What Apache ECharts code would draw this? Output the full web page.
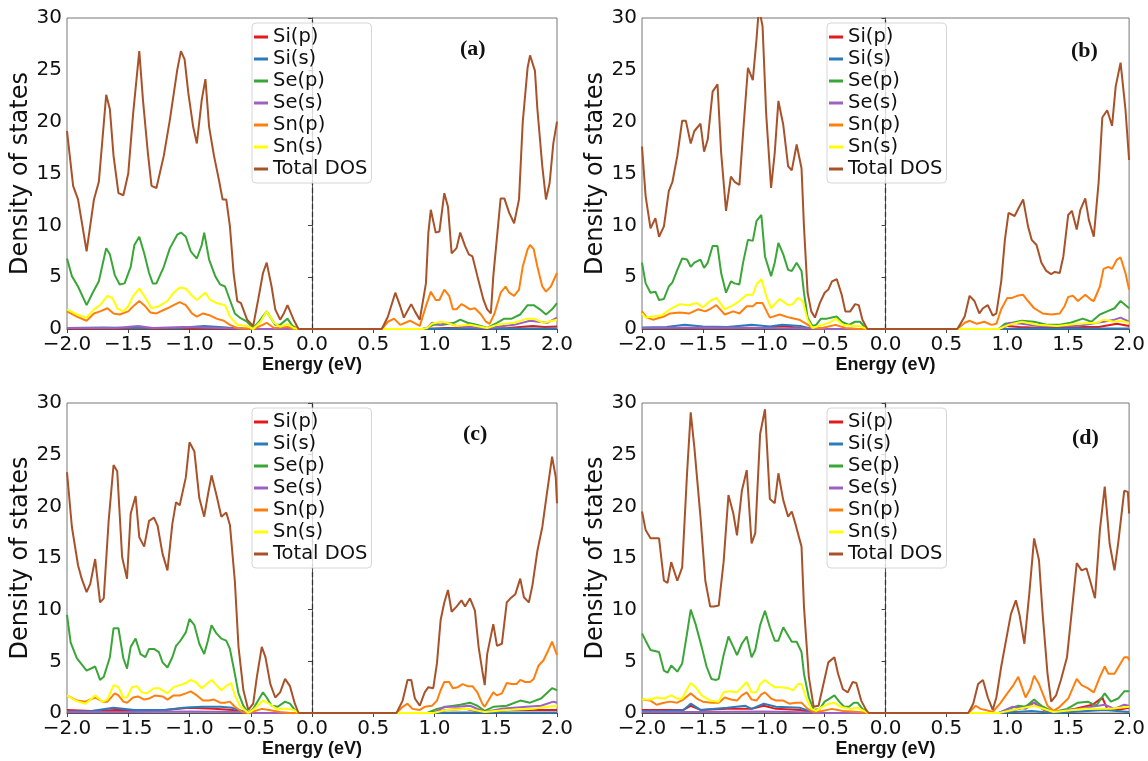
<!DOCTYPE html>
<html lang="en">
<head>
<meta charset="UTF-8">
<title>Density of states</title>
<script src="https://cdn.jsdelivr.net/npm/echarts@6/dist/echarts.min.js"></script>
<style>
  html, body { margin: 0; padding: 0; background: #fff; }
  #main { width: 1148px; height: 761px; }
</style>
</head>
<body>
<div id="main"></div>
<script>
// series names / colours (matplotlib order)
var names = ['Si(p)', 'Si(s)', 'Se(p)', 'Se(s)', 'Sn(p)', 'Sn(s)', 'Total DOS'];
var colors = ['#e31a1c', '#2b7bba', '#3aa637', '#9c62c2', '#ff7f0e', '#ffff00', '#a8522a'];
var tags = ['(a)', '(b)', '(c)', '(d)'];

// ---------- panel (a) ----------
var siPA = [[-2,0.05],[-1.6,0.05],[-1.2,0.05],[-0.9,0.1],[-0.6,0.03],[-0.5,0],[0.9,0],[1.1,0.1],[1.4,0.05],[1.6,0.1],[1.8,0.3],[1.9,0.2],[2,0.25]];
var siSA = [[-2,0.1],[-1.7,0.15],[-1.45,0.1],[-1.1,0.1],[-0.88,0.3],[-0.7,0.15],[-0.55,0],[0.9,0],[1.3,0.05],[2,0.05]];
var sePA = [[-2.0,6.8],[-1.96,5.1],[-1.91,4.1],[-1.84,2.3],[-1.79,3.5],[-1.74,4.6],[-1.68,7.8],[-1.65,7.2],[-1.61,5.2],[-1.57,4.3],[-1.53,4.4],[-1.48,6.0],[-1.45,8.1],[-1.41,8.9],[-1.37,7.3],[-1.33,5.4],[-1.30,4.4],[-1.27,4.4],[-1.21,6.0],[-1.16,7.8],[-1.10,9.1],[-1.07,9.3],[-1.03,8.9],[-0.99,7.5],[-0.97,7.2],[-0.94,6.8],[-0.90,8.1],[-0.88,9.3],[-0.84,6.7],[-0.79,5.1],[-0.75,4.3],[-0.71,4.1],[-0.67,2.8],[-0.63,1.5],[-0.59,1.1],[-0.53,0.7],[-0.48,0.1],[-0.44,0.6],[-0.37,1.7],[-0.30,0.4],[-0.26,0.4],[-0.20,1.0],[-0.16,0.3],[-0.11,0],[0.9,0],[0.94,0.1],[0.99,0.4],[1.07,0.4],[1.16,0.6],[1.21,0.9],[1.27,0.6],[1.35,0.4],[1.43,0.1],[1.51,0.6],[1.57,1.0],[1.63,1.0],[1.70,1.4],[1.76,2.3],[1.81,2.3],[1.86,1.9],[1.91,1.4],[1.96,1.9],[2.0,2.5]];
var seSA = [[-2,0.1],[-1.6,0.1],[-1.42,0.3],[-1.3,0.1],[-1.05,0.2],[-0.9,0.15],[-0.6,0.05],[-0.5,0],[0.9,0],[0.94,0.1],[0.98,0.6],[1.05,0.4],[1.1,0.6],[1.18,0.3],[1.43,0.1],[1.65,0.4],[1.78,0.8],[1.92,0.6],[2,1.1]];
var snPA = [[-2.0,1.7],[-1.92,1.2],[-1.84,0.8],[-1.78,1.5],[-1.73,1.7],[-1.67,2.0],[-1.62,1.5],[-1.57,1.4],[-1.50,1.7],[-1.45,2.3],[-1.41,2.7],[-1.37,2.3],[-1.32,1.6],[-1.27,1.5],[-1.18,2.0],[-1.13,2.3],[-1.08,2.6],[-1.03,2.3],[-0.98,1.5],[-0.94,1.2],[-0.89,1.5],[-0.83,1.3],[-0.78,1.0],[-0.72,0.8],[-0.67,0.4],[-0.61,0.1],[-0.48,0],[-0.42,0.3],[-0.37,0.6],[-0.31,0.1],[-0.20,0.2],[-0.15,0],[0.57,0],[0.62,0.7],[0.67,1.0],[0.72,0.4],[0.80,0.8],[0.88,0.3],[0.93,2.2],[0.97,3.6],[1.01,2.8],[1.04,2.8],[1.08,3.8],[1.12,3.2],[1.15,1.9],[1.18,1.9],[1.22,2.4],[1.25,2.2],[1.29,1.9],[1.33,2.0],[1.38,1.4],[1.42,0.7],[1.45,0.5],[1.49,1.5],[1.54,3.5],[1.58,4.1],[1.61,3.5],[1.65,3.2],[1.69,3.8],[1.72,6.0],[1.76,7.7],[1.78,8.1],[1.81,7.7],[1.84,6.0],[1.88,4.1],[1.91,3.6],[1.95,4.1],[2.0,5.4]];
var snSA = [[-2.0,1.9],[-1.92,1.4],[-1.84,1.1],[-1.78,1.9],[-1.73,2.3],[-1.67,3.2],[-1.63,3.0],[-1.59,2.0],[-1.54,1.7],[-1.50,2.2],[-1.46,3.2],[-1.41,3.9],[-1.37,3.2],[-1.31,2.0],[-1.25,2.2],[-1.18,2.7],[-1.13,3.5],[-1.08,4.0],[-1.03,3.9],[-0.98,3.2],[-0.94,2.8],[-0.90,3.2],[-0.87,3.5],[-0.83,2.8],[-0.78,2.5],[-0.71,2.3],[-0.67,1.2],[-0.61,0.4],[-0.53,0.3],[-0.48,0],[-0.42,0.7],[-0.37,1.7],[-0.31,0.6],[-0.26,0.2],[-0.20,0.5],[-0.15,0.1],[-0.11,0],[0.9,0],[0.94,0.1],[0.98,0.5],[1.05,0.7],[1.10,0.6],[1.18,0.3],[1.29,0.4],[1.43,0.1],[1.51,0.4],[1.65,0.6],[1.76,1.0],[1.81,1.0],[1.89,0.6],[2.0,0.9]];
var totA = [[-2.0,19.1],[-1.95,13.8],[-1.91,12.5],[-1.84,7.5],[-1.78,12.5],[-1.74,14.2],[-1.68,22.6],[-1.65,21.2],[-1.62,16.7],[-1.58,13.1],[-1.54,12.9],[-1.50,15.0],[-1.46,20.8],[-1.41,26.8],[-1.38,22.1],[-1.34,17.0],[-1.31,13.8],[-1.27,13.6],[-1.21,16.7],[-1.16,20.2],[-1.10,25.0],[-1.07,26.8],[-1.04,26.0],[-1.01,22.8],[-0.97,19.5],[-0.94,17.9],[-0.90,22.1],[-0.87,24.1],[-0.84,19.5],[-0.80,16.7],[-0.76,14.4],[-0.73,12.5],[-0.70,12.5],[-0.67,9.9],[-0.64,5.4],[-0.61,2.7],[-0.58,2.5],[-0.53,0.9],[-0.48,0.3],[-0.44,2.8],[-0.40,5.4],[-0.37,6.4],[-0.33,4.1],[-0.30,1.9],[-0.26,0.9],[-0.23,1.5],[-0.20,2.3],[-0.15,0.9],[-0.11,0],[0.57,0],[0.62,1.2],[0.68,3.5],[0.72,2.2],[0.75,1.1],[0.81,2.4],[0.84,1.7],[0.88,0.9],[0.93,4.4],[0.95,9.3],[0.97,11.5],[1.01,9.3],[1.04,9.4],[1.08,13.1],[1.11,11.8],[1.14,7.3],[1.18,7.8],[1.21,9.3],[1.25,8.0],[1.28,7.2],[1.31,7.0],[1.35,5.1],[1.40,2.8],[1.43,1.9],[1.46,1.5],[1.48,5.1],[1.54,12.6],[1.57,12.6],[1.61,11.2],[1.65,10.2],[1.69,12.5],[1.72,19.9],[1.76,25.2],[1.78,26.4],[1.82,24.9],[1.84,21.2],[1.88,15.7],[1.91,12.5],[1.94,14.1],[1.97,17.9],[2.0,20.0]];

// ---------- panel (b) ----------
var siPB = [[-2,0.1],[-1.6,0.1],[-1.3,0.15],[-1.0,0.1],[-0.85,0.3],[-0.7,0.1],[-0.6,0],[0.93,0],[1.0,0.3],[1.1,0.2],[1.3,0.1],[1.6,0.2],[1.75,0.2],[1.9,0.5],[2,0.3]];
var siSB = [[-2,0.15],[-1.8,0.2],[-1.65,0.4],[-1.5,0.25],[-1.3,0.2],[-1.1,0.4],[-0.95,0.25],[-0.85,0.4],[-0.7,0.3],[-0.6,0],[0.93,0],[1.2,0.05],[2,0.05]];
var sePB = [[-2.0,6.4],[-1.97,4.4],[-1.93,3.5],[-1.89,3.6],[-1.86,2.8],[-1.82,2.9],[-1.78,4.1],[-1.75,4.5],[-1.71,5.7],[-1.67,6.8],[-1.63,6.7],[-1.60,6.0],[-1.57,6.4],[-1.52,6.7],[-1.49,5.9],[-1.46,6.4],[-1.42,8.0],[-1.38,8.0],[-1.35,5.4],[-1.31,3.5],[-1.27,4.6],[-1.24,4.4],[-1.20,4.3],[-1.17,6.4],[-1.13,8.6],[-1.09,8.5],[-1.06,10.4],[-1.02,11.0],[-0.99,7.0],[-0.94,5.1],[-0.91,6.4],[-0.88,8.3],[-0.84,7.2],[-0.80,5.7],[-0.77,5.6],[-0.73,6.4],[-0.69,5.6],[-0.67,3.5],[-0.64,1.1],[-0.60,0.3],[-0.57,0.4],[-0.53,1.0],[-0.48,1.0],[-0.44,1.1],[-0.40,1.2],[-0.36,0.7],[-0.30,0.4],[-0.25,0.7],[-0.21,0.7],[-0.18,0.3],[-0.15,0],[0.93,0],[0.98,0.5],[1.04,0.6],[1.12,0.8],[1.22,0.7],[1.33,0.4],[1.43,0.4],[1.52,0.6],[1.62,1.0],[1.69,0.7],[1.76,1.4],[1.82,1.7],[1.88,2.0],[1.93,2.7],[2.0,2.0]];
var seSB = [[-2,0.1],[-1.5,0.15],[-1.0,0.1],[-0.6,0.05],[-0.55,0],[0.93,0],[1.02,0.6],[1.12,0.5],[1.25,0.3],[1.58,0.3],[1.79,0.7],[1.88,0.9],[1.93,1.1],[2,0.7]];
var snPB = [[-2.0,1.7],[-1.96,1.1],[-1.91,0.9],[-1.82,1.2],[-1.77,1.5],[-1.69,1.6],[-1.61,1.5],[-1.54,1.9],[-1.48,1.7],[-1.43,2.0],[-1.39,2.3],[-1.32,1.4],[-1.25,1.7],[-1.20,1.5],[-1.14,2.2],[-1.09,2.2],[-1.06,2.5],[-1.01,2.5],[-0.95,1.1],[-0.87,1.4],[-0.79,1.1],[-0.71,0.9],[-0.65,0.5],[-0.60,0.1],[-0.52,0.1],[-0.41,0.4],[-0.33,0.1],[-0.22,0],[0.59,0],[0.65,0.6],[0.69,0.8],[0.75,0.5],[0.81,0.7],[0.87,0.4],[0.91,0.5],[0.95,1.9],[1.00,3.0],[1.04,3.0],[1.08,3.2],[1.13,3.3],[1.17,2.7],[1.22,2.0],[1.29,1.5],[1.36,1.4],[1.43,1.5],[1.47,2.2],[1.50,3.1],[1.54,3.2],[1.58,2.7],[1.64,3.3],[1.69,2.8],[1.71,2.7],[1.76,4.1],[1.79,5.8],[1.83,6.0],[1.86,5.8],[1.90,6.7],[1.93,6.9],[1.97,5.4],[2.0,3.8]];
var snSB = [[-2.0,1.5],[-1.97,1.1],[-1.91,1.2],[-1.84,1.3],[-1.77,1.9],[-1.69,2.4],[-1.62,2.3],[-1.55,2.5],[-1.50,2.1],[-1.44,2.7],[-1.39,3.0],[-1.32,1.9],[-1.25,2.3],[-1.20,2.7],[-1.14,3.3],[-1.09,3.3],[-1.06,4.3],[-1.02,4.8],[-0.98,3.2],[-0.94,2.0],[-0.87,2.9],[-0.80,2.3],[-0.76,2.4],[-0.72,3.0],[-0.68,2.7],[-0.64,0.9],[-0.60,0.1],[-0.52,0.4],[-0.46,0.6],[-0.41,1.0],[-0.35,0.4],[-0.27,0.3],[-0.22,0.3],[-0.15,0],[0.93,0],[1.01,0.4],[1.12,0.7],[1.25,0.4],[1.41,0.3],[1.58,0.5],[1.74,0.6],[1.79,0.9],[1.88,0.7],[1.93,0.8],[2.0,0.6]];
var totB = [[-2.0,17.6],[-1.97,12.8],[-1.93,9.7],[-1.89,10.7],[-1.86,8.9],[-1.82,9.9],[-1.78,13.3],[-1.75,14.2],[-1.71,16.7],[-1.67,20.1],[-1.64,20.1],[-1.60,17.9],[-1.57,19.1],[-1.52,19.8],[-1.49,17.1],[-1.46,18.3],[-1.42,22.9],[-1.38,23.6],[-1.35,17.0],[-1.31,11.4],[-1.27,14.7],[-1.24,14.2],[-1.20,13.9],[-1.17,18.9],[-1.13,25.2],[-1.09,24.0],[-1.06,27.9],[-1.04,31.0],[-1.01,29.2],[-0.98,20.7],[-0.94,13.6],[-0.91,17.0],[-0.88,22.0],[-0.84,19.7],[-0.80,15.7],[-0.77,15.3],[-0.73,17.8],[-0.69,15.5],[-0.67,9.9],[-0.64,3.5],[-0.61,1.7],[-0.58,1.1],[-0.54,2.5],[-0.50,3.5],[-0.47,3.8],[-0.44,4.6],[-0.40,4.8],[-0.36,3.3],[-0.33,1.7],[-0.29,1.7],[-0.25,2.4],[-0.22,2.3],[-0.19,0.9],[-0.15,0],[0.59,0],[0.65,1.2],[0.69,3.2],[0.73,2.7],[0.77,1.5],[0.80,2.0],[0.84,2.3],[0.88,1.3],[0.91,1.5],[0.95,4.6],[0.98,8.6],[1.01,11.2],[1.06,10.9],[1.09,11.6],[1.13,12.5],[1.17,9.9],[1.20,8.6],[1.24,8.1],[1.28,6.4],[1.32,5.6],[1.36,5.3],[1.39,5.5],[1.43,5.4],[1.46,7.0],[1.50,11.0],[1.53,11.4],[1.57,9.6],[1.60,11.5],[1.64,12.6],[1.67,10.5],[1.71,8.9],[1.75,14.2],[1.78,20.4],[1.82,21.1],[1.86,19.6],[1.89,23.4],[1.93,25.7],[1.97,21.2],[2.0,16.3]];

// ---------- panel (c) ----------
var siPC = [[-2,0.3],[-1.8,0.2],[-1.6,0.3],[-1.4,0.3],[-1.2,0.3],[-1.0,0.5],[-0.8,0.4],[-0.65,0.3],[-0.52,0],[0.95,0],[1.1,0.3],[1.25,0.4],[1.41,0.05],[1.6,0.3],[2,0.3]];
var siSC = [[-2,0.15],[-1.8,0.2],[-1.62,0.5],[-1.45,0.3],[-1.2,0.3],[-1.05,0.5],[-0.9,0.6],[-0.75,0.6],[-0.65,0.5],[-0.52,0],[0.95,0],[1.2,0.05],[2,0.05]];
var sePC = [[-2.0,9.5],[-1.97,6.8],[-1.92,5.3],[-1.84,4.1],[-1.77,4.5],[-1.73,3.2],[-1.70,3.5],[-1.65,5.4],[-1.62,8.2],[-1.58,8.2],[-1.54,5.3],[-1.51,4.3],[-1.48,6.4],[-1.44,7.2],[-1.40,5.7],[-1.36,5.4],[-1.33,6.2],[-1.29,6.2],[-1.25,5.9],[-1.22,4.9],[-1.18,4.4],[-1.14,5.4],[-1.11,6.5],[-1.08,6.9],[-1.03,7.8],[-1.00,9.1],[-0.96,8.5],[-0.92,6.7],[-0.88,5.7],[-0.85,7.0],[-0.82,8.5],[-0.78,7.7],[-0.74,7.2],[-0.70,7.0],[-0.67,6.2],[-0.63,3.8],[-0.60,1.9],[-0.56,0.7],[-0.52,0],[-0.48,0.4],[-0.44,1.2],[-0.40,2.0],[-0.37,1.5],[-0.33,0.7],[-0.28,0.6],[-0.22,1.1],[-0.18,0.9],[-0.14,0.3],[-0.11,0],[0.94,0],[1.02,0.4],[1.10,0.6],[1.21,0.8],[1.29,1.0],[1.35,0.7],[1.41,0.2],[1.48,0.6],[1.59,0.7],[1.70,1.2],[1.78,1.0],[1.87,1.4],[1.96,2.4],[2.0,2.2]];
var seSC = [[-2,0.1],[-1.5,0.1],[-1.0,0.15],[-0.6,0.1],[-0.52,0],[0.99,0],[1.08,0.6],[1.18,0.6],[1.29,0.7],[1.41,0.1],[1.54,0.4],[1.75,0.6],[1.87,0.7],[1.97,1.1],[2,1.0]];
var snPC = [[-2.0,1.7],[-1.92,1.2],[-1.85,1.1],[-1.77,1.5],[-1.71,1.1],[-1.67,1.1],[-1.61,1.9],[-1.58,1.7],[-1.54,1.1],[-1.51,1.0],[-1.46,1.5],[-1.42,1.6],[-1.37,1.3],[-1.33,1.4],[-1.28,1.7],[-1.22,1.6],[-1.18,1.3],[-1.13,1.7],[-1.08,1.7],[-1.03,1.9],[-0.99,2.1],[-0.94,1.7],[-0.89,1.2],[-0.84,1.2],[-0.80,1.3],[-0.75,1.0],[-0.71,1.0],[-0.67,1.1],[-0.63,0.6],[-0.57,0.1],[-0.52,0],[-0.41,0.4],[-0.35,0.3],[-0.26,0.1],[-0.18,0],[0.69,0],[0.74,0.6],[0.78,0.9],[0.82,0.4],[0.88,0.3],[0.92,0.6],[0.98,0.7],[1.02,1.2],[1.05,2.2],[1.08,3.0],[1.12,3.0],[1.15,2.4],[1.19,2.5],[1.23,2.8],[1.27,2.6],[1.31,2.6],[1.35,2.0],[1.39,0.9],[1.41,0.6],[1.44,1.2],[1.48,2.0],[1.51,1.7],[1.55,1.9],[1.59,2.9],[1.63,2.8],[1.67,2.8],[1.70,3.2],[1.74,3.0],[1.78,3.0],[1.81,3.3],[1.85,4.6],[1.89,5.1],[1.93,6.1],[1.96,6.9],[2.0,5.6]];
var snSC = [[-2.0,1.7],[-1.93,1.2],[-1.85,0.9],[-1.77,1.7],[-1.71,1.1],[-1.67,1.3],[-1.62,2.7],[-1.58,2.5],[-1.54,1.5],[-1.51,1.5],[-1.47,2.5],[-1.43,2.6],[-1.39,2.0],[-1.35,1.9],[-1.29,2.4],[-1.25,2.4],[-1.18,1.9],[-1.13,2.5],[-1.08,2.7],[-1.03,2.9],[-0.99,3.2],[-0.95,3.0],[-0.90,2.4],[-0.86,2.8],[-0.82,3.2],[-0.78,2.7],[-0.74,2.2],[-0.69,2.7],[-0.66,2.9],[-0.63,1.7],[-0.59,0.7],[-0.52,0],[-0.48,0.3],[-0.40,1.2],[-0.35,0.9],[-0.29,0.4],[-0.20,0.4],[-0.15,0.3],[-0.11,0],[0.99,0],[1.10,0.3],[1.27,0.4],[1.41,0.1],[1.59,0.3],[1.81,0.4],[1.92,0.6],[2.0,0.7]];
var totC = [[-2.0,23.3],[-1.96,18.0],[-1.91,14.3],[-1.88,13.0],[-1.84,11.7],[-1.81,12.5],[-1.77,14.9],[-1.73,10.7],[-1.70,11.1],[-1.66,18.6],[-1.62,24.0],[-1.59,23.4],[-1.55,15.1],[-1.51,13.0],[-1.48,19.3],[-1.44,21.0],[-1.41,17.0],[-1.37,16.1],[-1.33,18.6],[-1.29,18.9],[-1.26,18.1],[-1.22,15.4],[-1.18,13.8],[-1.14,18.3],[-1.11,20.4],[-1.08,20.1],[-1.03,22.8],[-1.00,26.2],[-0.96,25.3],[-0.92,20.8],[-0.88,19.0],[-0.85,21.1],[-0.82,23.0],[-0.78,21.1],[-0.74,19.0],[-0.70,19.4],[-0.67,18.2],[-0.63,12.8],[-0.60,6.4],[-0.56,2.2],[-0.52,0.3],[-0.48,0.9],[-0.45,3.5],[-0.41,6.4],[-0.38,5.4],[-0.34,2.8],[-0.30,1.5],[-0.26,2.0],[-0.22,3.3],[-0.18,2.6],[-0.14,0.9],[-0.11,0],[0.69,0],[0.74,1.2],[0.78,3.2],[0.81,3.2],[0.84,1.4],[0.88,0.7],[0.92,2.0],[0.95,2.5],[0.99,2.4],[1.02,4.8],[1.05,9.0],[1.08,10.7],[1.11,11.9],[1.14,9.8],[1.18,10.3],[1.22,10.9],[1.25,10.3],[1.29,11.1],[1.33,9.9],[1.36,6.4],[1.39,4.1],[1.41,2.7],[1.43,5.7],[1.48,8.6],[1.51,6.5],[1.55,6.7],[1.59,10.7],[1.62,11.1],[1.66,11.5],[1.70,13.0],[1.73,11.2],[1.77,10.7],[1.80,12.4],[1.84,15.7],[1.88,18.0],[1.91,20.6],[1.96,24.8],[1.99,22.8],[2.0,20.3]];

// ---------- panel (d) ----------
var siPD = [[-2,0.3],[-1.8,0.3],[-1.66,0.3],[-1.6,0.7],[-1.52,0.3],[-1.3,0.4],[-1.1,0.4],[-1.0,0.7],[-0.9,0.4],[-0.7,0.3],[-0.58,0],[0.93,0],[1.1,0.4],[1.22,1.0],[1.3,0.3],[1.38,0],[1.55,0.4],[1.7,0.8],[1.78,1.5],[1.82,0.4],[1.9,0.3],[2,0.5]];
var siSD = [[-2,0.2],[-1.8,0.2],[-1.66,0.3],[-1.6,0.9],[-1.52,0.3],[-1.3,0.5],[-1.15,0.7],[-1.1,0.4],[-1.0,0.9],[-0.9,0.6],[-0.7,0.5],[-0.58,0],[0.93,0],[1.2,0.2],[1.38,0],[1.8,0.3],[2,0.1]];
var sePD = [[-2.0,7.7],[-1.97,7.0],[-1.93,6.1],[-1.86,5.9],[-1.82,4.1],[-1.79,3.9],[-1.76,4.6],[-1.71,4.0],[-1.67,4.8],[-1.63,7.7],[-1.60,10.0],[-1.56,8.6],[-1.51,6.4],[-1.47,4.5],[-1.43,3.3],[-1.39,3.2],[-1.37,3.3],[-1.33,5.6],[-1.29,7.4],[-1.25,6.4],[-1.22,5.6],[-1.18,6.7],[-1.14,7.4],[-1.10,5.4],[-1.07,6.1],[-1.03,8.5],[-0.99,9.9],[-0.95,8.3],[-0.91,7.0],[-0.88,7.0],[-0.84,8.3],[-0.80,7.5],[-0.77,6.9],[-0.73,6.9],[-0.69,5.9],[-0.67,3.8],[-0.63,1.5],[-0.59,0.3],[-0.54,0.4],[-0.50,1.1],[-0.46,1.4],[-0.42,1.7],[-0.38,1.1],[-0.34,0.6],[-0.30,0.6],[-0.26,1.0],[-0.23,1.0],[-0.19,0.4],[-0.14,0],[0.93,0],[1.01,0.4],[1.09,0.7],[1.15,0.6],[1.22,1.3],[1.28,0.7],[1.38,0.1],[1.49,0.4],[1.58,1.0],[1.66,1.1],[1.73,0.7],[1.80,1.9],[1.85,1.1],[1.91,1.4],[1.96,2.1],[2.0,2.1]];
var seSD = [[-2,0.1],[-1.5,0.1],[-1.0,0.15],[-0.6,0.05],[-0.58,0],[0.93,0],[1.04,0.6],[1.15,0.4],[1.22,1.0],[1.29,0.4],[1.38,0.1],[1.58,0.4],[1.8,0.8],[1.88,0.4],[1.96,0.8],[2,0.7]];
var snPD = [[-2.0,1.3],[-1.93,1.2],[-1.88,0.8],[-1.82,1.0],[-1.77,1.1],[-1.71,1.0],[-1.66,1.3],[-1.60,1.9],[-1.55,1.4],[-1.50,1.1],[-1.43,1.0],[-1.37,1.0],[-1.32,1.5],[-1.27,1.3],[-1.22,1.2],[-1.18,1.7],[-1.14,2.0],[-1.10,1.3],[-1.06,1.2],[-1.02,1.8],[-0.99,2.0],[-0.94,1.4],[-0.90,1.2],[-0.84,1.2],[-0.79,0.9],[-0.74,1.0],[-0.69,1.0],[-0.64,0.4],[-0.59,0.1],[-0.52,0.2],[-0.44,0.4],[-0.35,0.2],[-0.22,0.1],[-0.14,0],[0.68,0],[0.74,0.7],[0.78,0.4],[0.82,0.3],[0.88,0.1],[0.94,0.9],[1.00,1.9],[1.05,2.7],[1.09,3.5],[1.15,1.5],[1.19,2.4],[1.22,3.6],[1.26,2.8],[1.29,1.9],[1.33,0.7],[1.38,0.2],[1.43,0.6],[1.50,1.4],[1.57,3.3],[1.61,2.7],[1.66,2.4],[1.71,2.0],[1.76,3.5],[1.80,4.5],[1.83,3.8],[1.88,3.8],[1.91,4.4],[1.96,5.4],[1.99,5.4],[2.0,5.1]];
var snSD = [[-2.0,1.3],[-1.93,1.3],[-1.88,1.5],[-1.82,1.4],[-1.76,1.7],[-1.71,1.4],[-1.67,1.4],[-1.63,2.3],[-1.60,2.9],[-1.56,2.5],[-1.51,1.7],[-1.44,1.2],[-1.37,1.1],[-1.33,2.0],[-1.28,2.1],[-1.22,2.0],[-1.18,2.5],[-1.14,3.0],[-1.10,2.0],[-1.06,2.0],[-1.03,2.8],[-0.99,3.2],[-0.95,2.8],[-0.91,2.5],[-0.86,2.5],[-0.80,2.4],[-0.76,2.2],[-0.72,2.8],[-0.69,2.8],[-0.65,1.4],[-0.61,0.4],[-0.57,0.2],[-0.52,0.6],[-0.46,0.9],[-0.42,1.0],[-0.37,0.6],[-0.29,0.4],[-0.23,0.5],[-0.16,0.1],[-0.14,0],[0.93,0],[1.09,0.4],[1.22,0.7],[1.38,0.1],[1.64,0.4],[1.85,0.4],[2.0,0.6]];
var totD = [[-2.0,19.5],[-1.97,17.7],[-1.93,16.9],[-1.86,16.9],[-1.82,12.8],[-1.79,12.6],[-1.76,14.6],[-1.71,12.8],[-1.67,14.1],[-1.63,23.2],[-1.60,29.1],[-1.57,25.7],[-1.52,19.0],[-1.48,12.8],[-1.44,10.3],[-1.41,10.3],[-1.37,10.4],[-1.33,14.6],[-1.29,21.1],[-1.25,19.3],[-1.22,17.2],[-1.18,21.5],[-1.14,23.5],[-1.10,16.4],[-1.07,17.4],[-1.03,27.0],[-0.99,29.4],[-0.95,20.7],[-0.91,20.3],[-0.88,23.2],[-0.84,20.6],[-0.80,19.0],[-0.77,19.5],[-0.74,18.3],[-0.69,16.1],[-0.67,10.3],[-0.63,3.5],[-0.59,0.6],[-0.55,0.7],[-0.51,2.8],[-0.47,4.9],[-0.42,5.4],[-0.39,3.8],[-0.35,2.3],[-0.31,2.0],[-0.27,3.0],[-0.24,2.9],[-0.20,1.2],[-0.16,0.3],[-0.14,0],[0.68,0],[0.72,0.9],[0.76,2.8],[0.80,3.2],[0.84,1.5],[0.88,0.3],[0.91,1.5],[0.95,4.5],[1.00,7.7],[1.03,9.6],[1.07,10.9],[1.10,9.5],[1.14,6.7],[1.18,11.5],[1.22,16.9],[1.26,14.8],[1.29,9.6],[1.33,3.8],[1.36,1.1],[1.40,1.7],[1.44,3.2],[1.49,5.4],[1.53,9.9],[1.57,14.5],[1.61,13.8],[1.65,14.0],[1.68,12.8],[1.72,11.1],[1.76,17.7],[1.80,21.9],[1.84,16.4],[1.88,13.8],[1.91,16.4],[1.96,21.5],[1.99,21.4],[2.0,19.3]];

var panelData = [
    [siPA, siSA, sePA, seSA, snPA, snSA, totA],
    [siPB, siSB, sePB, seSB, snPB, snSB, totB],
    [siPC, siSC, sePC, seSC, snPC, snSC, totC],
    [siPD, siSD, sePD, seSD, snPD, snSD, totD]
];

// layout of the four panels
var boxes = [
    {left: 67,  top: 18,  width: 490, height: 311},
    {left: 642, top: 18,  width: 490, height: 311},
    {left: 67,  top: 403, width: 490, height: 310},
    {left: 642, top: 403, width: 490, height: 310}
];
var tagPos = [[475, 50], [1086, 52], [478, 435], [1087, 439]];

var myChart = echarts.init(document.getElementById('main'));

function minusFmt(v) {
    return (v < 0 ? '\u2212' : '') + Math.abs(v).toFixed(1);
}

var option = {
    animation: false,
    backgroundColor: '#fff',
    textStyle: {fontFamily: 'DejaVu Sans'},
    grid: [], xAxis: [], yAxis: [], legend: [], series: [], graphic: []
};

boxes.forEach(function (b, i) {
    option.grid.push({
        left: b.left, top: b.top, width: b.width, height: b.height,
        show: true, borderColor: '#777', borderWidth: 1, backgroundColor: 'transparent'
    });
    option.xAxis.push({
        gridIndex: i, type: 'value', min: -2, max: 2, interval: 0.5,
        name: 'Energy (eV)', nameLocation: 'middle', nameGap: 26,
        nameTextStyle: {fontFamily: 'Liberation Sans', fontWeight: 'bold', fontSize: 18, color: '#111'},
        axisLine: {onZero: false, lineStyle: {color: '#555'}},
        axisTick: {length: 4, lineStyle: {color: '#444'}},
        axisLabel: {fontSize: 20, color: '#111', margin: 6, formatter: minusFmt},
        splitLine: {show: false}
    });
    option.yAxis.push({
        gridIndex: i, type: 'value', min: 0, max: 30, interval: 5,
        name: 'Density of states', nameLocation: 'middle', nameGap: 33,
        nameTextStyle: {fontSize: 24, color: '#111'},
        axisLine: {show: true, lineStyle: {color: '#555'}},
        axisTick: {show: true, length: 4, lineStyle: {color: '#444'}},
        axisLabel: {fontSize: 20, color: '#111', margin: 5},
        splitLine: {show: false}
    });
    option.legend.push({
        data: names, orient: 'vertical', z: 30,
        left: b.left + 185, top: b.top + 5,
        icon: 'rect', itemWidth: 14, itemHeight: 3, itemGap: 2,
        padding: [4, 4, 4, 2],
        borderColor: '#d6d6d6', borderWidth: 1, borderRadius: 4,
        backgroundColor: 'rgba(255,255,255,0.8)',
        selectedMode: false,
        textStyle: {fontSize: 19.5, lineHeight: 20, color: '#111', fontFamily: 'DejaVu Sans'}
    });
    panelData[i].forEach(function (d, k) {
        var s = {
            name: names[k], type: 'line', xAxisIndex: i, yAxisIndex: i,
            data: d, symbol: 'none', showSymbol: false, clip: true,
            lineStyle: {width: 2, color: colors[k]},
            itemStyle: {color: colors[k]},
            z: 2 + k
        };
        if (k === 0) {
            // dashed Fermi level marker at E = 0
            s.markLine = {
                silent: true, symbol: ['none', 'none'], label: {show: false},
                lineStyle: {color: '#333', type: [5, 3], width: 1.3},
                data: [{xAxis: 0}]
            };
        }
        option.series.push(s);
    });
    option.graphic.push({
        type: 'text', left: tagPos[i][0] - 15, top: tagPos[i][1] - 12, z: 10,
        style: {text: tags[i], fontFamily: 'Liberation Serif', fontWeight: 'bold', fontSize: 22, fill: '#111'}
    });
});

myChart.setOption(option);
window.addEventListener('resize', function () { myChart.resize(); });
</script>
</body>
</html>
